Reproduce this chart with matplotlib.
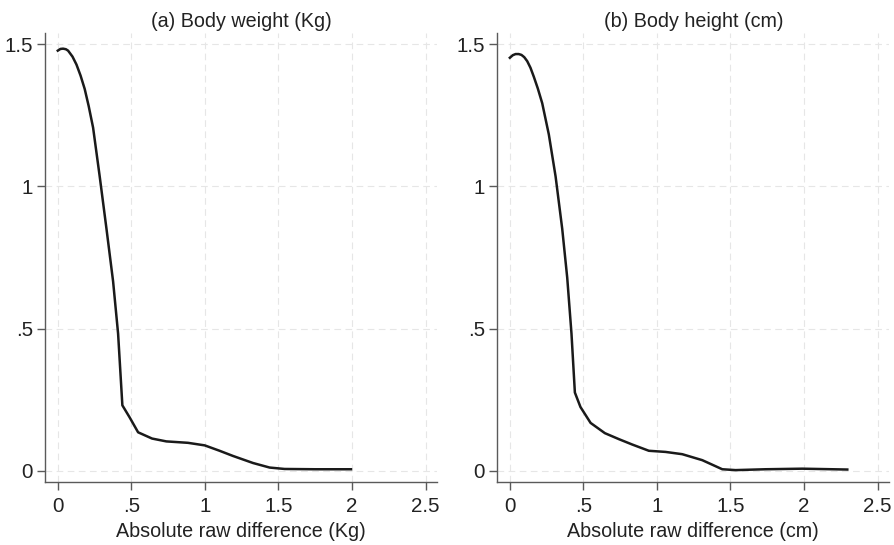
import matplotlib.pyplot as plt
import numpy as np

plt.rcParams['font.family'] = ['Liberation Sans', 'DejaVu Sans']

# (a) body weight, density vs absolute raw difference
weight_x = [0.0, 0.018, 0.036, 0.055, 0.07, 0.1, 0.127, 0.155, 0.183, 0.21, 0.24, 0.285, 0.331,
            0.376, 0.41, 0.439, 0.489, 0.546, 0.641, 0.738, 0.885, 0.999, 1.1, 1.19, 1.327,
            1.44, 1.542, 1.75, 1.993]
weight_y = [1.478, 1.484, 1.485, 1.483, 1.478, 1.457, 1.429, 1.39, 1.343, 1.283, 1.207, 1.035,
            0.851, 0.666, 0.482, 0.23, 0.187, 0.135, 0.113, 0.103, 0.098, 0.089, 0.07, 0.052,
            0.027, 0.011, 0.006, 0.005, 0.005]

# (b) body height
height_x = [0.0, 0.02, 0.039, 0.06, 0.079, 0.098, 0.118, 0.14, 0.163, 0.19, 0.22, 0.265, 0.311,
            0.356, 0.39, 0.419, 0.442, 0.48, 0.549, 0.646, 0.741, 0.832, 0.945, 1.058, 1.172,
            1.308, 1.444, 1.534, 1.738, 1.988, 2.294]
height_y = [1.453, 1.462, 1.466, 1.466, 1.463, 1.455, 1.441, 1.418, 1.386, 1.345, 1.293, 1.183,
            1.035, 0.851, 0.679, 0.482, 0.275, 0.224, 0.168, 0.132, 0.111, 0.092, 0.07, 0.066,
            0.058, 0.037, 0.005, 0.002, 0.005, 0.007, 0.004]

titles = ['(a) Body weight (Kg)', '(b) Body height (cm)']
xlabels = ['Absolute raw difference (Kg)', 'Absolute raw difference (cm)']
xticks = [0, 0.5, 1, 1.5, 2, 2.5]
xtick_labels = ['0', '.5', '1', '1.5', '2', '2.5']
yticks = [0, 0.5, 1, 1.5]
ytick_labels = ['0', '.5', '1', '1.5']

fig = plt.figure(figsize=(8.95, 5.45), dpi=100)
ax_a = fig.add_axes([0.0506, 0.115, 0.438, 0.8244])
ax_b = fig.add_axes([0.5557, 0.115, 0.438, 0.8244])

panels = [(ax_a, weight_x, weight_y), (ax_b, height_x, height_y)]
for i, (ax, xs, ys) in enumerate(panels):
    ax.plot(xs, ys, color='#1a1a1a', linewidth=1.8, solid_joinstyle='round')
    ax.set_xlim(-0.085, 2.58)
    ax.set_ylim(-0.041, 1.54)
    ax.set_xticks(xticks)
    ax.set_xticklabels(xtick_labels)
    ax.set_yticks(yticks)
    ax.set_yticklabels(ytick_labels)
    ax.grid(True, color='#e6e6e6', linestyle=(0, (6, 4)), linewidth=0.8)
    ax.set_axisbelow(True)
    for side in ['top', 'right']:
        ax.spines[side].set_visible(False)
    for side in ['left', 'bottom']:
        ax.spines[side].set_color('#5a5a5a')
        ax.spines[side].set_linewidth(1.0)
    ax.tick_params(axis='both', colors='#5a5a5a', labelcolor='#222222',
                   labelsize=14.8, length=5.8, width=1.0)
    ax.tick_params(axis='x', pad=5)
    ax.tick_params(axis='y', pad=3)
    ax.set_title(titles[i], fontsize=14.2, color='#222222', pad=4)
    ax.set_xlabel(xlabels[i], fontsize=14.2, color='#222222', labelpad=4)

fig.savefig('out.png', dpi=100, facecolor='white')
